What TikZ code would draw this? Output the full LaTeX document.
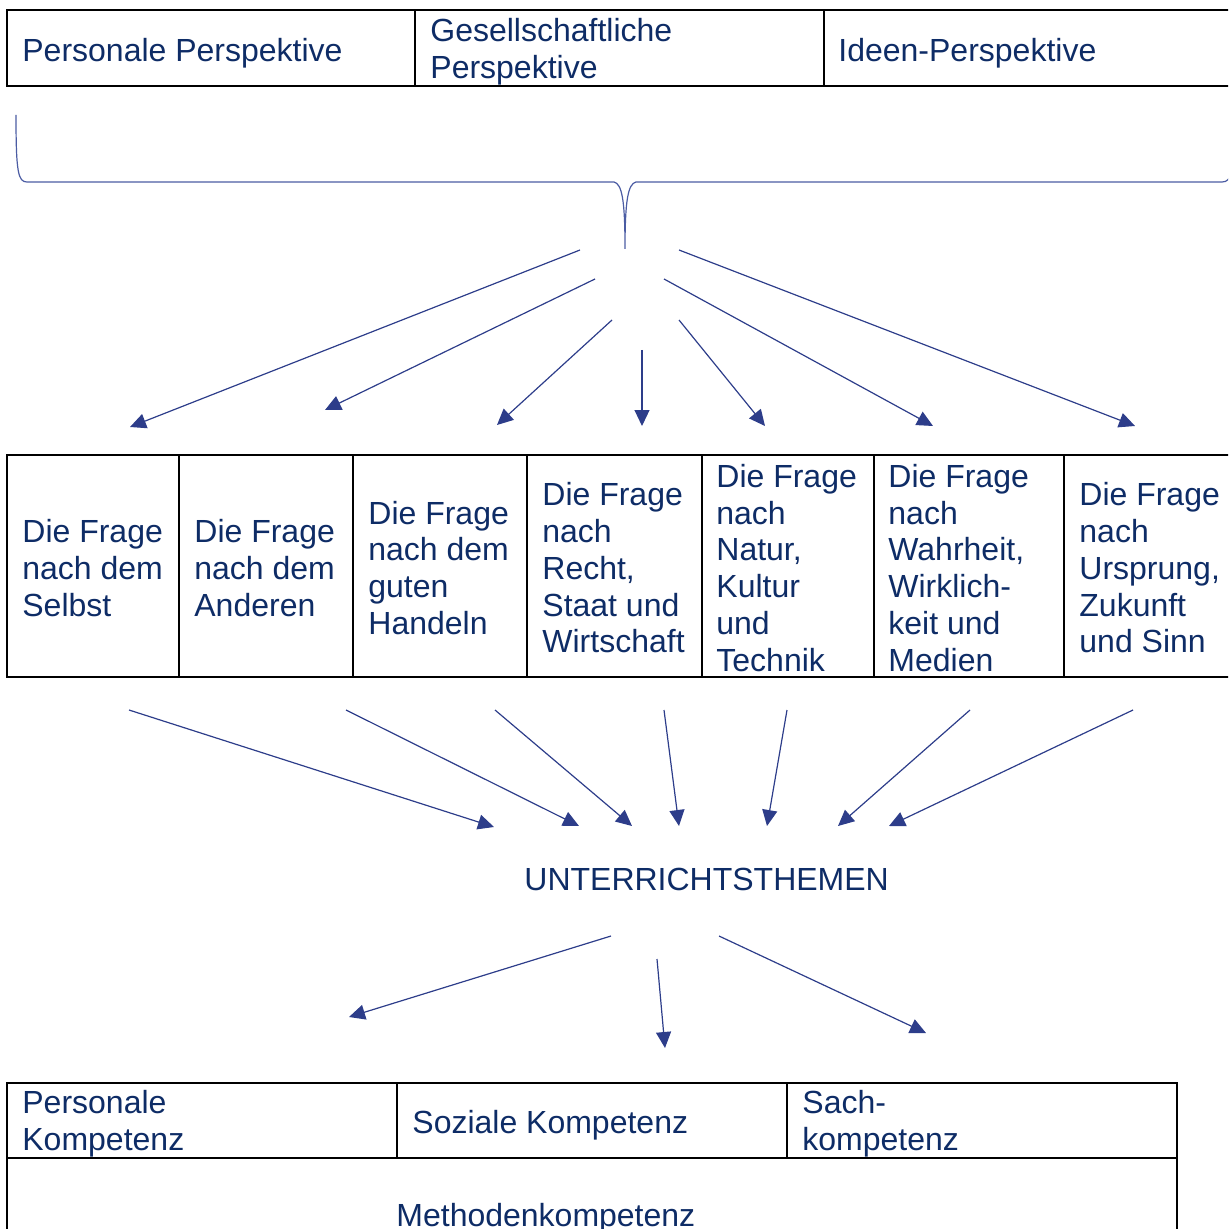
\documentclass[tikz,border=0pt]{standalone}
\usepackage{fontspec}
\setmainfont{Liberation Sans}
\usetikzlibrary{arrows.meta,positioning}

\definecolor{textblau}{HTML}{0E2C66}
\definecolor{pfeilblau}{HTML}{2D3D8A}
\definecolor{klammerblau}{HTML}{4B5CA3}
\newcommand{\zeilenstrut}{\rule[-1.8pt]{0pt}{18.4pt}}

\begin{document}
\begin{tikzpicture}[x=0.5pt, y=-0.5pt,
        zelle/.style={draw=black, line width=0.8pt, anchor=north west,
                      inner sep=0pt, outer sep=0pt},
        eintrag/.style={inner sep=0pt, align=left, text=textblau,
                        font=\fontsize{16pt}{18.4pt}\selectfont,
                        execute at begin node={\zeilenstrut},
                        execute at end node={\zeilenstrut}},
        mehrzeilig/.style={eintrag, yshift=-1.75pt},
        pfeil/.style={draw=pfeilblau, line width=0.6pt,
                      -{Triangle[length=8pt, width=7.5pt]}}]
    \useasboundingbox (0,0) rectangle (1228,1229);
    \clip (0,0) rectangle (1228,1229);

    \node[zelle, minimum width=204pt, minimum height=38pt] (pers) at (7,10) {};
    \node[zelle, minimum width=204.5pt, minimum height=38pt] (gesell) at (415,10) {};
    \node[zelle, minimum width=210pt, minimum height=38pt] (ideen) at (824,10) {};
    \node[eintrag, right=7.5pt of pers.west] (perstext) {Personale Perspektive};
    \node[mehrzeilig, right=7.5pt of gesell.west] (gesetext) {Gesellschaftliche\\Perspektive};
    \node[eintrag, right=7pt of ideen.west] (ideetext) {Ideen-Perspektive};

    \draw[draw=klammerblau, line width=0.6pt]
        (16,115) .. controls (16,172) and (18,182) .. (27,182) -- (614,182)
        .. controls (622,184) and (625,200) .. (625,249) coordinate (spitze)
        .. controls (625,200) and (628,184) .. (636,182) -- (1222,182)
        .. controls (1232,182) and (1234,172) .. (1234,115);

    \node[zelle, minimum width=86pt, minimum height=111pt] (selbst) at (7,455) {};
    \node[zelle, minimum width=87pt, minimum height=111pt] (andere) at (179,455) {};
    \node[zelle, minimum width=87pt, minimum height=111pt] (handeln) at (353,455) {};
    \node[zelle, minimum width=87.5pt, minimum height=111pt] (recht) at (527,455) {};
    \node[zelle, minimum width=86pt, minimum height=111pt] (natur) at (702,455) {};
    \node[zelle, minimum width=95pt, minimum height=111pt] (wahrheit) at (874,455) {};
    \node[zelle, minimum width=92pt, minimum height=111pt] (ursprung) at (1064,455) {};
    \node[mehrzeilig, right=7.5pt of selbst.west] (selbsttext) {Die Frage\\nach dem\\Selbst};
    \node[mehrzeilig, right=7.5pt of andere.west] (anderetext) {Die Frage\\nach dem\\Anderen};
    \node[mehrzeilig, right=7.5pt of handeln.west] (handelntext) {Die Frage\\nach dem\\guten\\Handeln};
    \node[mehrzeilig, right=7.5pt of recht.west] (rechttext) {Die Frage\\nach\\Recht,\\Staat und\\Wirtschaft};
    \node[mehrzeilig, right=7pt of natur.west] (naturtext) {Die Frage\\nach\\Natur,\\Kultur\\und\\Technik};
    \node[mehrzeilig, right=7pt of wahrheit.west] (wahrheittext) {Die Frage\\nach\\Wahrheit,\\Wirklich-\\keit und\\Medien};
    \node[mehrzeilig, right=7.5pt of ursprung.west] (ursprungtext) {Die Frage\\nach\\Ursprung,\\Zukunft\\und Sinn};

    \node[eintrag, anchor=base west] (themen) at (524,890) {UNTERRICHTSTHEMEN};

    \node[zelle, minimum width=195pt, minimum height=37.5pt] (perskomp) at (7,1083) {};
    \node[zelle, minimum width=195pt, minimum height=37.5pt] (sozkomp) at (397,1083) {};
    \node[zelle, minimum width=195pt, minimum height=37.5pt] (sachkomp) at (787,1083) {};
    \node[zelle, minimum width=585pt, minimum height=50pt] (methkomp) at (7,1158) {};
    \node[mehrzeilig, right=7.5pt of perskomp.west] (perskomptext) {Personale\\Kompetenz};
    \node[eintrag, right=7.5pt of sozkomp.west] (sozkomptext) {Soziale Kompetenz};
    \node[mehrzeilig, right=7.5pt of sachkomp.west] (sachkomptext) {Sach-\\kompetenz};
    \node[eintrag, anchor=base west] (methkomptext) at (396,1226) {Methodenkompetenz};

    \foreach \xa/\ya/\xb/\yb [count=\i] in {580/250/130/427, 595/279/325/410,
            612/320/497/425, 642/350/642/426, 679/320/765/426,
            664/279/933/426, 679/250/1135/426} {
        \coordinate (oben\i) at (\xa,\ya);
        \coordinate (frage\i) at (\xb,\yb);
        \draw[pfeil] (oben\i) -- (frage\i);
    }
    \foreach \xa/\ya/\xb/\yb [count=\i] in {129/710/494/827, 346/710/579/826,
            495/710/632/826, 664/710/679/826, 787/710/767/826,
            970/710/838/826, 1133/710/889/826} {
        \coordinate (mitte\i) at (\xa,\ya);
        \coordinate (thema\i) at (\xb,\yb);
        \draw[pfeil] (mitte\i) -- (thema\i);
    }
    \foreach \xa/\ya/\xb/\yb [count=\i] in {611/936/349/1017,
            657/959/665/1048, 719/936/926/1033} {
        \coordinate (unten\i) at (\xa,\ya);
        \coordinate (komp\i) at (\xb,\yb);
        \draw[pfeil] (unten\i) -- (komp\i);
    }
\end{tikzpicture}
\end{document}
